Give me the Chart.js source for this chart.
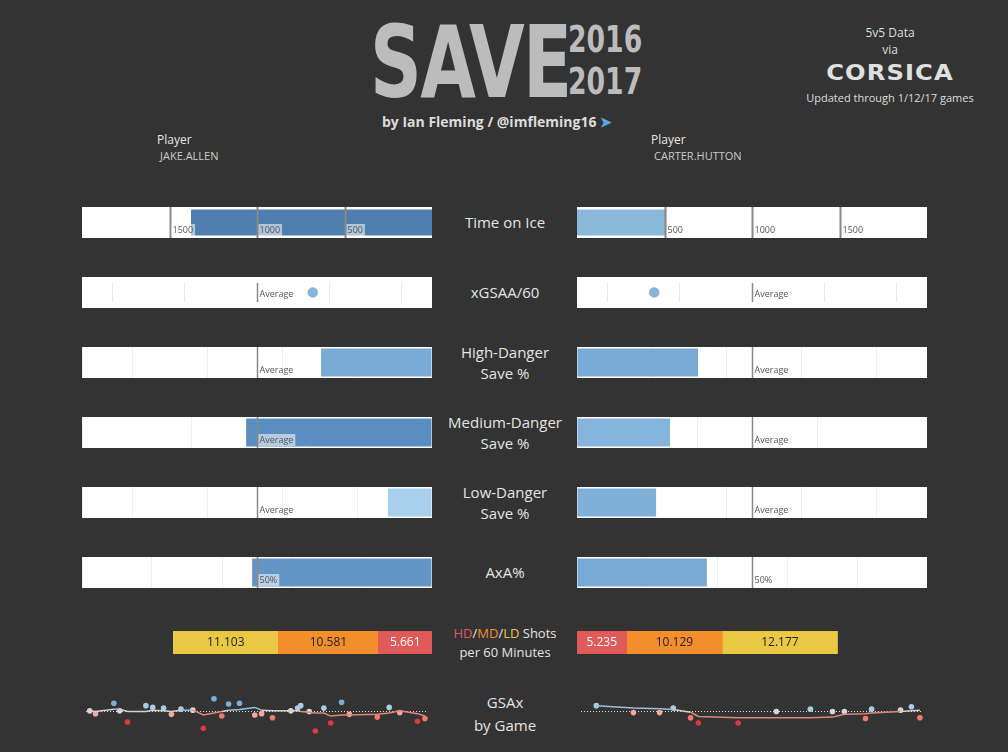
<!DOCTYPE html>
<html><head><meta charset="utf-8">
<script src="https://cdn.jsdelivr.net/npm/chart.js@4"></script>
<style>
body{margin:0;background:#333333;width:1008px;height:752px;overflow:hidden;font-family:"Open Sans",sans-serif;position:relative}
.t{position:absolute;color:#e6e6e6;white-space:nowrap}
.c{position:absolute;text-align:center;width:140px;left:435px;font-size:15px;color:#e4e4e4;line-height:21px;font-family:"Open Sans",sans-serif}
.panel{position:absolute;background:#fff}
canvas{position:absolute}
</style></head><body>
<div class="t" style="left:370px;top:4px;font:bold 100px 'DejaVu Sans Condensed';color:#bcbcbc;letter-spacing:-2px;transform:scaleX(0.8);transform-origin:left">SAVE</div>
<div class="t" style="left:568px;top:18px;font:bold 38px 'DejaVu Sans Condensed';color:#bcbcbc;line-height:42px;transform:scaleX(0.78);transform-origin:left">2016<br>2017</div>
<div class="t" style="left:382px;top:112px;font:bold 14px 'Open Sans';color:#dcdcdc">by Ian Fleming / @imfleming16 <span style="color:#5aa7e0">&#10148;</span></div>
<div class="t" style="left:840px;top:24px;width:100px;text-align:center;font-size:12px;color:#ddd;line-height:17px">5v5 Data<br>via</div>
<div class="t" style="left:800px;top:60px;width:180px;text-align:center;font:900 22px 'DejaVu Sans';letter-spacing:1px;color:#e0e0e0;transform:scaleX(1.1)">CORSICA</div>
<div class="t" style="left:800px;top:90px;width:180px;text-align:center;font-size:11px;color:#ddd">Updated through 1/12/17 games</div>
<div class="t" style="left:157px;top:131px;font-size:12px">Player</div>
<div class="t" style="left:160px;top:148px;font-size:11px;color:#ccc">JAKE.ALLEN</div>
<div class="t" style="left:651px;top:131px;font-size:12px">Player</div>
<div class="t" style="left:654px;top:148px;font-size:11px;color:#ccc">CARTER.HUTTON</div>
<div class="c" style="top:212px">Time on Ice</div>
<div class="c" style="top:282px">xGSAA/60</div>
<div class="c" style="top:342px">High-Danger<br>Save %</div>
<div class="c" style="top:412px">Medium-Danger<br>Save %</div>
<div class="c" style="top:482px">Low-Danger<br>Save %</div>
<div class="c" style="top:562px">AxA%</div>
<div class="c" style="top:624px;font-size:13px;line-height:19px"><span style="color:#e05a5a">HD</span>/<span style="color:#f28e2b">MD</span>/<span style="color:#ebc844">LD</span> Shots<br>per 60 Minutes</div>
<div class="c" style="top:691px;line-height:23px">GSAx<br>by Game</div>
<script>
// players
const players = ['JAKE.ALLEN', 'CARTER.HUTTON']
// time on ice (minutes)
const toi = [1377, 510]
const toiTicks = [500, 1000, 1500]
// xGSAA/60 relative to average
const xgsaa = [0.77, -1.35]
// relative index, 50 = league average
const hdSv = [31.7, 34.6]
const mdSv = [53.1, 26.6]
const ldSv = [12.6, 22.6]
const axa = [51.4, 37.1]
// shots per 60 by danger
const hd60 = [5.661, 5.235]
const md60 = [10.581, 10.129]
const ld60 = [11.103, 12.177]
// GSAx by game: day index, gsax, running trend
const gameDayL = [0.6,2.3,7.7,9.4,11.7,17.1,19.1,22.3,24.6,27.4,30.9,34,37.1,39.4,41.4,44.6,49.1,51.1,54.3,59.7,61.7,62.6,65.1,66.9,69.4,71.4,74.6,76.9,85.1,88.6,91.7,96.9,99.1]
const gsaxL = [0,-0.4,1.1,0,-1.6,0.75,0.5,0.4,-0.5,0.25,0.1,-2.5,1.75,-0.75,1,1.1,-0.6,-0.4,-1,0,0.4,0.75,-0.1,-2.9,0.4,-1.75,1.25,-0.5,-0.9,0.5,-0.25,-1.5,-1.1]
const trendL = [0,-0.1,0.25,0.25,-0.1,-0.1,0.1,0,-0.1,0.1,0.1,-0.6,-0.3,-0.1,0.1,0.2,0.5,0.1,0,0,0,-0.1,-0.2,-0.3,-0.3,-0.75,-0.6,-0.6,-0.5,-0.3,0,-0.4,-0.75]
const gameDayR = [4,14.9,22.6,26.6,31.7,34,45.7,56.9,66.9,73.4,76.9,83.1,84.9,93.4,96.6,99.1]
const gsaxR = [0.75,-0.25,-0.25,0.4,-1,-1.75,-1.75,-0.1,0.25,-0.1,-0.1,-1.1,0.25,0.1,0.6,-1]
const trendR = [0.75,0.4,0.3,0.2,-0.2,-0.8,-1.0,-1.0,-1.0,-0.9,-0.5,-0.4,-0.3,-0.1,0,0.1]

const LX = 82, RX = 577, PW = 350

const marks = {
  id: 'marks',
  afterDatasetsDraw(chart, args, o) {
    if (!o.lines) return
    const ctx = chart.ctx, xs = chart.scales.x, a = chart.chartArea
    o.lines.forEach(l => {
      const px = Math.round(xs.getPixelForValue(l.v)) + 0.5
      ctx.save()
      ctx.strokeStyle = l.color || '#888'; ctx.lineWidth = l.w || 1.5
      ctx.beginPath(); ctx.moveTo(px, a.top); ctx.lineTo(px, a.bottom); ctx.stroke()
      if (l.label) {
        ctx.font = '9px "Open Sans"'
        const tw = ctx.measureText(l.label).width
        if (l.box) { ctx.fillStyle = 'rgba(255,255,255,0.55)'; ctx.fillRect(px + 1, a.bottom - 14, tw + 3, 12) }
        ctx.fillStyle = '#555'; ctx.textBaseline = 'bottom'
        ctx.fillText(l.label, px + 2, a.bottom - 3)
      }
      ctx.restore()
    })
  }
}
Chart.register(marks)

function canvasAt(x, y, w, h, white) {
  if (white) { const d = document.createElement('div'); d.className = 'panel'; Object.assign(d.style, {left: x + 'px', top: y + 'px', width: w + 'px', height: h + 'px'}); document.body.appendChild(d) }
  const c = document.createElement('canvas')
  c.width = w; c.height = h
  Object.assign(c.style, {left: x + 'px', top: y + 'px', width: w + 'px', height: h + 'px'})
  document.body.appendChild(c)
  return c
}

function barPanel(x, y, val, color, min, max, reverse, lines, grid, bp) {
  new Chart(canvasAt(x, y, PW, 31, true), {
    type: 'bar',
    data: { labels: [''], datasets: [{ data: [val], backgroundColor: color, barPercentage: bp || 0.9, categoryPercentage: 1 }] },
    options: {
      indexAxis: 'y', responsive: false, animation: false,
      layout: { padding: 0 },
      plugins: { legend: { display: false }, tooltip: { enabled: false }, marks: { lines: lines } },
      scales: {
        x: { min: min, max: max, reverse: reverse, display: !!grid, border: { display: false },
             ticks: { display: false, stepSize: grid || 1 }, grid: { color: '#efefef', drawTicks: false } },
        y: { display: false }
      }
    }
  })
}

// Time on ice
const toiLines = toiTicks.map(t => ({ v: t, label: String(t), color: '#888', w: 2, box: true }))
barPanel(LX, 207, toi[0], '#4e7fae', 0, 2000, true, toiLines, null, 0.84)
barPanel(RX, 207, toi[1], '#8ab8db', 0, 2000, false, toiTicks.map(t => ({ v: t, label: String(t), color: '#888', w: 2 })), null, 0.84)

// xGSAA/60
function dotPanel(x, val) {
  new Chart(canvasAt(x, 277, PW, 31, true), {
    type: 'scatter',
    data: { datasets: [{ data: [{ x: val, y: 0 }], backgroundColor: '#86b6dc', pointRadius: 5 }] },
    options: {
      responsive: false, animation: false, layout: { padding: 0 },
      plugins: { legend: { display: false }, tooltip: { enabled: false }, marks: { lines: [{ v: 0, label: 'Average', color: '#888' }] } },
      scales: {
        x: { min: -7 / 3, max: 7 / 3, border: { display: false }, ticks: { display: false },
             afterBuildTicks: s => { s.ticks = [-2, -1, 1, 2].map(v => ({ value: v })) },
             grid: { color: '#e8e8e8', drawTicks: false } },
        y: { display: false, min: -1, max: 1 }
      }
    }
  })
}
dotPanel(LX, xgsaa[0]); dotPanel(RX, xgsaa[1])

const avg = [{ v: 50, label: 'Average', color: '#888' }]
barPanel(LX, 347, hdSv[0], '#7aaad6', 0, 100, true, avg, 21.4)
barPanel(RX, 347, hdSv[1], '#7aaad6', 0, 100, false, avg, 21.4)
barPanel(LX, 417, mdSv[0], '#5b8ec0', 0, 100, true, [{ v: 50, label: 'Average', color: '#888', box: true }], 34.3)
barPanel(RX, 417, mdSv[1], '#85b4dc', 0, 100, false, avg, 34.3)
barPanel(LX, 487, ldSv[0], '#a8d0ec', 0, 100, true, avg, 21.4)
barPanel(RX, 487, ldSv[1], '#80b0d8', 0, 100, false, avg, 21.4)
barPanel(LX, 557, axa[0], '#6396c5', 0, 100, true, [{ v: 50, label: '50%', color: '#888', box: true }], 20)
barPanel(RX, 557, axa[1], '#78a9d5', 0, 100, false, [{ v: 50, label: '50%', color: '#888' }], 20)

// shots per 60
const shotLabels = {
  id: 'shotLabels',
  afterDatasetsDraw(chart) {
    const ctx = chart.ctx
    chart.data.datasets.forEach((ds, i) => {
      const el = chart.getDatasetMeta(i).data[0]
      ctx.save(); ctx.font = '12px "Open Sans"'; ctx.fillStyle = ds.txt; ctx.textAlign = 'center'; ctx.textBaseline = 'middle'
      ctx.fillText(ds.data[0].toFixed(3), (el.x + el.base) / 2, el.y); ctx.restore()
    })
  }
}
function shotPanel(x, i, reverse) {
  new Chart(canvasAt(x, 631, PW, 23, false), {
    type: 'bar',
    data: { labels: [''], datasets: [
      { data: [hd60[i]], backgroundColor: '#e05a5a', txt: '#fff' },
      { data: [md60[i]], backgroundColor: '#f28e2b', txt: '#222' },
      { data: [ld60[i]], backgroundColor: '#ebc844', txt: '#222' }
    ].map(d => Object.assign(d, { barPercentage: 1, categoryPercentage: 1 })) },
    options: {
      indexAxis: 'y', responsive: false, animation: false, layout: { padding: 0 },
      plugins: { legend: { display: false }, tooltip: { enabled: false } },
      scales: { x: { stacked: true, min: 0, max: 37, reverse: reverse, display: false }, y: { stacked: true, display: false } }
    },
    plugins: [shotLabels]
  })
}
shotPanel(LX, 0, true); shotPanel(RX, 1, false)

// GSAx by game
const zeroLine = {
  id: 'zeroLine',
  beforeDatasetsDraw(chart) {
    const ctx = chart.ctx, a = chart.chartArea, py = Math.round(chart.scales.y.getPixelForValue(0)) + 0.5
    ctx.save(); ctx.strokeStyle = '#ddd'; ctx.lineWidth = 1; ctx.setLineDash([1, 2])
    ctx.beginPath(); ctx.moveTo(a.left, py); ctx.lineTo(a.right, py); ctx.stroke(); ctx.restore()
  }
}
function ptColor(v) {
  if (v > 0.9) return '#7aafd8'
  if (v > 0.15) return '#a8cde6'
  if (v > -0.15) return '#dcd4d2'
  if (v > -0.7) return '#f4a794'
  if (v > -1.4) return '#ee7a68'
  return '#dc3a3a'
}
function gamePanel(x, days, vals, trend) {
  new Chart(canvasAt(x, 680, PW, 60, false), {
    type: 'scatter',
    data: { datasets: [
      { type: 'line', data: days.map((d, i) => ({ x: d, y: trend[i] })), borderWidth: 1.5, pointRadius: 0,
        segment: { borderColor: c => (c.p0.parsed.y + c.p1.parsed.y) / 2 >= 0.1 ? '#9cbfdb' : ((c.p0.parsed.y + c.p1.parsed.y) / 2 > -0.15 ? '#d8cccc' : '#e08878') } },
      { data: days.map((d, i) => ({ x: d, y: vals[i] })), backgroundColor: vals.map(ptColor), pointRadius: 2.8, borderWidth: 0 }
    ] },
    options: {
      responsive: false, animation: false, layout: { padding: 0 },
      plugins: { legend: { display: false }, tooltip: { enabled: false } },
      scales: { x: { min: -0.5, max: 100, display: false }, y: { min: -3.625, max: 3.875, display: false } }
    },
    plugins: [zeroLine]
  })
}
gamePanel(LX, gameDayL, gsaxL, trendL)
gamePanel(RX, gameDayR, gsaxR, trendR)
</script>
</body></html>
